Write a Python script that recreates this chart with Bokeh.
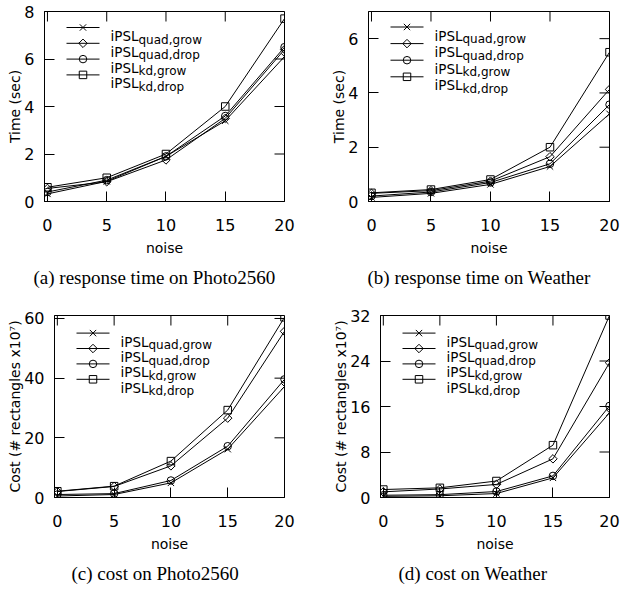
import math
from bokeh.plotting import figure
from bokeh.models import Range1d, Title, FixedTicker
from bokeh.layouts import column, row
from bokeh.embed import file_html
from bokeh.resources import INLINE
from bokeh.core.properties import value

# ---------------- data ----------------
noise = [0, 5, 10, 15, 20]
x_ticks = [0, 5, 10, 15, 20]

series_main = ["iPSL", "iPSL", "iPSL", "iPSL"]
series_sub = ["quad,grow", "quad,drop", "kd,grow", "kd,drop"]
series_markers = ["x", "diamond", "circle", "square"]

# (a) response time on Photo2560 (sec)
a_quad_grow = [0.32, 0.85, 1.90, 3.40, 6.10]
a_quad_drop = [0.55, 0.83, 1.75, 3.50, 6.40]
a_kd_grow = [0.40, 0.90, 1.90, 3.60, 6.50]
a_kd_drop = [0.60, 1.00, 2.00, 4.00, 7.70]
a_yticks = [0, 2, 4, 6, 8]

# (b) response time on Weather (sec)
b_quad_grow = [0.15, 0.30, 0.63, 1.29, 3.23]
b_quad_drop = [0.30, 0.40, 0.75, 1.65, 4.13]
b_kd_grow = [0.20, 0.35, 0.70, 1.39, 3.57]
b_kd_drop = [0.32, 0.44, 0.81, 2.00, 5.50]
b_yticks = [0, 2, 4, 6]

# (c) cost on Photo2560 (# rectangles x10^7)
c_quad_grow = [0.5, 1.0, 4.9, 16.2, 37.2]
c_quad_drop = [2.0, 3.7, 10.6, 26.6, 55.7]
c_kd_grow = [1.0, 1.3, 5.7, 17.2, 39.6]
c_kd_drop = [2.1, 3.8, 12.2, 29.3, 60.4]
c_yticks = [0, 20, 40, 60]

# (d) cost on Weather (# rectangles x10^7)
d_quad_grow = [0.2, 0.3, 0.7, 3.45, 14.9]
d_quad_drop = [1.0, 1.5, 2.3, 6.8, 23.7]
d_kd_grow = [0.4, 0.5, 1.05, 3.8, 16.1]
d_kd_drop = [1.4, 1.7, 2.9, 9.2, 32.0]
d_yticks = [0, 8, 16, 24, 32]

SANS = "DejaVu Sans"
SERIF = "Liberation Serif"
# (bokeh marker, size, angle) - the diamond is drawn as a square turned by 45 degrees
MARKER_STYLE = {"x": ("x", 9, 0.0),
                "diamond": ("square", 6, math.pi / 4),
                "circle": ("circle", 7.5, 0.0),
                "square": ("square", 7.5, 0.0)}
TICK_PX = 10
X_MIN, X_MAX = -0.25, 20


def style_axis(ax):
    ax.axis_line_color = "black"
    ax.axis_line_width = 1
    ax.major_tick_in = TICK_PX
    ax.major_tick_out = 0
    ax.minor_tick_in = 0
    ax.minor_tick_out = 0
    ax.major_tick_line_color = "black"
    ax.major_label_text_font = SANS
    ax.major_label_text_font_size = "16px"
    ax.major_label_text_color = "black"
    ax.axis_label_text_font = SANS
    ax.axis_label_text_font_size = "14px"
    ax.axis_label_text_font_style = "normal"
    ax.axis_label_text_color = "black"


def add_markers(p, xs, ys, mk, **kw):
    m, s, ang = MARKER_STYLE[mk]
    p.scatter(xs, ys, marker=m, size=s, angle=ang, line_color="black",
              fill_color=None, line_width=1, **kw)


def make_panel(ys, ymax, yticks, ylabel, caption, cap_offset,
               fw, fh, bl, br, bt, bb, leg_y0, leg_gap):
    p = figure(frame_width=fw, frame_height=fh,
               x_range=Range1d(X_MIN, X_MAX), y_range=Range1d(0, ymax),
               output_backend="svg", toolbar_location=None,
               min_border_left=bl, min_border_right=br,
               min_border_top=bt, min_border_bottom=bb,
               background_fill_color="white", border_fill_color="white")
    p.grid.visible = False
    p.outline_line_color = "black"
    p.outline_line_width = 1
    p.outline_line_alpha = 1

    p.xaxis.ticker = FixedTicker(ticks=x_ticks, minor_ticks=[])
    p.yaxis.ticker = FixedTicker(ticks=yticks, minor_ticks=[])
    for ax in p.xaxis:
        style_axis(ax)
        ax.axis_label = "noise"
        ax.major_label_standoff = 17
        ax.axis_label_standoff = 6
    for ax in p.yaxis:
        style_axis(ax)
        ax.axis_label = ylabel
        ax.major_label_standoff = 10
        ax.axis_label_standoff = -2

    # mirrored inward ticks on the top and right frame edges
    dy = ymax * TICK_PX / fh
    dx = (X_MAX - X_MIN) * TICK_PX / fw
    p.segment(x0=x_ticks, y0=[ymax] * len(x_ticks), x1=x_ticks,
              y1=[ymax - dy] * len(x_ticks), line_color="black", line_width=1)
    p.segment(x0=[X_MAX] * len(yticks), y0=yticks, x1=[X_MAX - dx] * len(yticks),
              y1=yticks, line_color="black", line_width=1)

    # data series
    for vals, mk in zip(ys, series_markers):
        p.line(noise, vals, line_color="black", line_width=1)
        add_markers(p, noise, vals, mk)

    # legend drawn in a pixel-based extra range (origin top-left of frame)
    p.extra_x_ranges = {"lx": Range1d(0, fw)}
    p.extra_y_ranges = {"ly": Range1d(fh, 0)}
    rows_y = [leg_y0 + i * leg_gap for i in range(len(series_sub))]
    for ry, mk in zip(rows_y, series_markers):
        p.line([22, 55], [ry, ry], line_color="black", line_width=1,
               x_range_name="lx", y_range_name="ly")
        add_markers(p, [38.5], [ry], mk, x_range_name="lx", y_range_name="ly")
    p.text(x=[66] * len(rows_y), y=[r + 8.5 for r in rows_y], text=series_main,
           text_font=value(SANS), text_font_size="13.5px", text_color="black",
           text_align="left", text_baseline="alphabetic",
           x_range_name="lx", y_range_name="ly")
    p.text(x=[94] * len(rows_y), y=[r + 12 for r in rows_y], text=series_sub,
           text_font=value(SANS), text_font_size="12px", text_color="black",
           text_align="left", text_baseline="alphabetic",
           x_range_name="lx", y_range_name="ly")

    t = Title(text=caption, align="left", offset=cap_offset,
              text_font=SERIF, text_font_size="19px",
              text_font_style="normal", text_color="black", standoff=13)
    p.add_layout(t, "below")
    return p


pa = make_panel([a_quad_grow, a_quad_drop, a_kd_grow, a_kd_drop], 8, a_yticks,
                "Time (sec)", "(a) response time on Photo2560", -11,
                240, 190, 44, 24, 11, 94, 16, 15.8)
pb = make_panel([b_quad_grow, b_quad_drop, b_kd_grow, b_kd_drop], 7, b_yticks,
                "Time (sec)", "(b) response time on Weather", -1,
                241, 190, 60, 14, 11, 94, 15.5, 16.6)
pc = make_panel([c_quad_grow, c_quad_drop, c_kd_grow, c_kd_drop], 61, c_yticks,
                "Cost (# rectangles x10\u2077)", "(c) cost on Photo2560", 17,
                230, 182, 54, 24, 20, 96, 17.6, 15.4)
pd = make_panel([d_quad_grow, d_quad_drop, d_kd_grow, d_kd_drop], 32, d_yticks,
                "Cost (# rectangles x10\u2077)", "(d) cost on Weather", 18,
                229, 182, 72, 14, 20, 96, 17.6, 15.4)

layout = column(row(pa, pb, spacing=0), row(pc, pd, spacing=0), spacing=0)

open("out.html", "w").write(file_html(layout, INLINE))
